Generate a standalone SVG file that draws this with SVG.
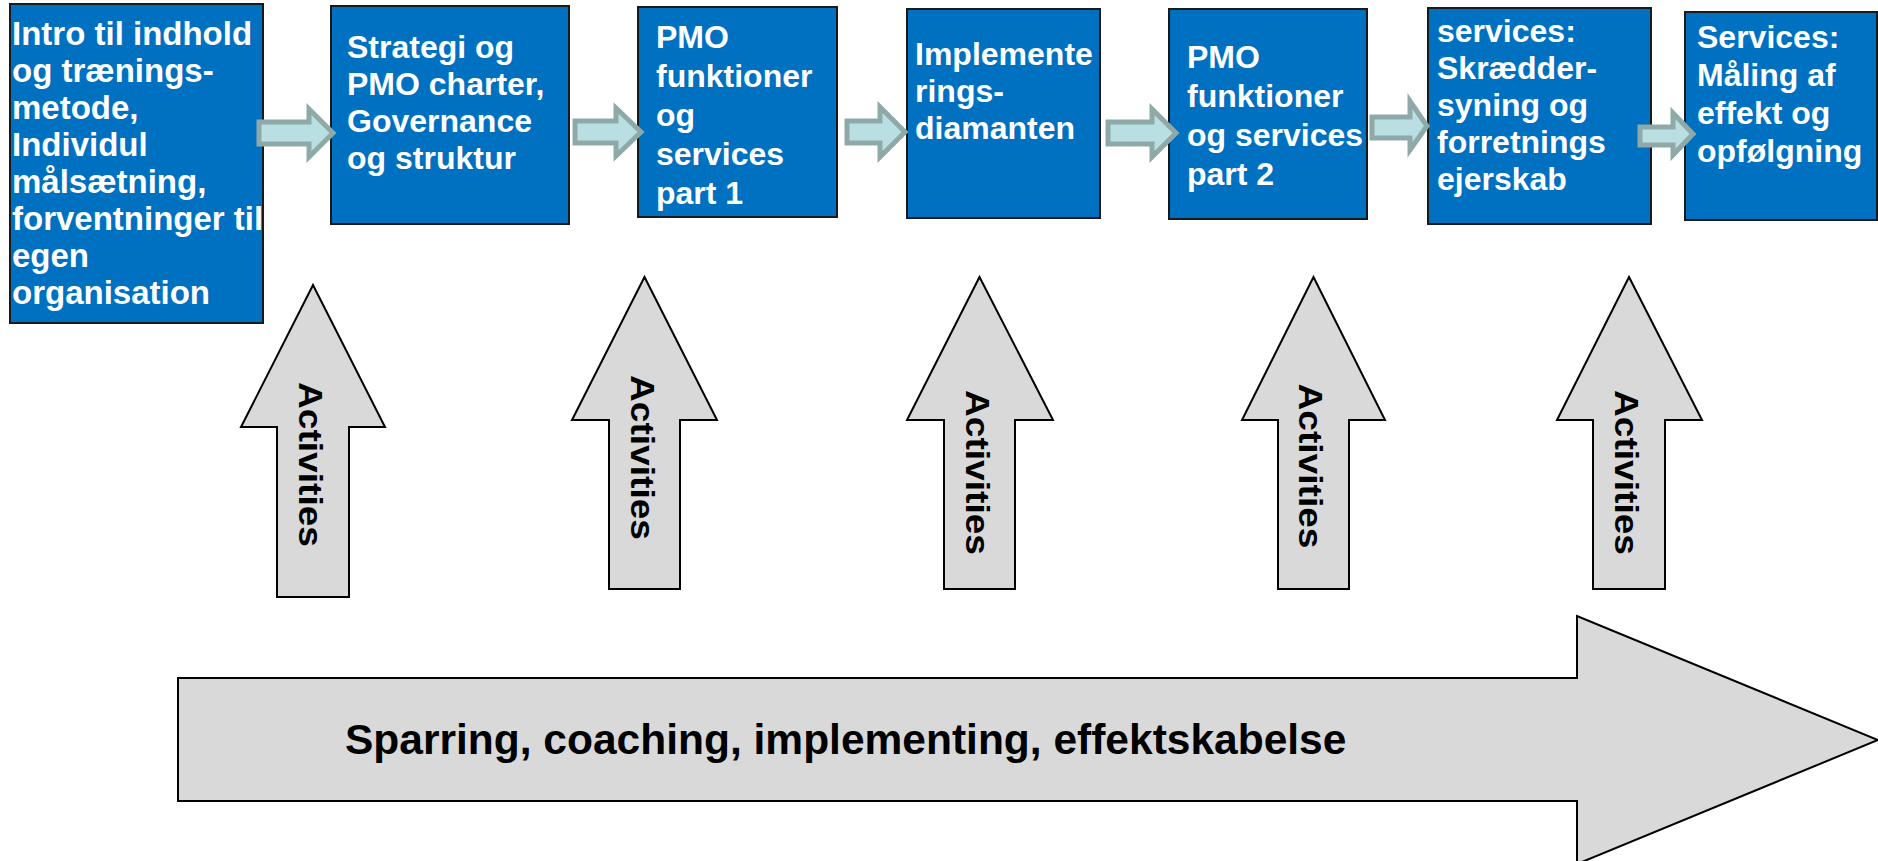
<svg xmlns="http://www.w3.org/2000/svg" width="1878" height="861" viewBox="0 0 1878 861">
<style>
.box{fill:#0070C0;stroke:#1a1a1a;stroke-width:2}
.bt{font-family:"Liberation Sans",Arial,sans-serif;font-weight:bold;font-size:32px;fill:#ffffff}
.b1{font-size:33px}
.ga{fill:#D9D9D9;stroke:#000;stroke-width:2;stroke-linejoin:miter}
.act{font-family:"Liberation Sans",Arial,sans-serif;font-weight:bold;font-size:33px;fill:#000}
.sa{fill:#B9DFE2;stroke:#8FA9A9;stroke-width:5;stroke-linejoin:miter}
.big{font-family:"Liberation Sans",Arial,sans-serif;font-weight:bold;font-size:42.5px;fill:#000}
</style>
<rect width="1878" height="861" fill="#ffffff"/>

<g id="big-arrow">
<path class="ga" d="M178,678 H1577 V616 L1878,740 L1577,864 V801 H178 Z"/>
<text class="big" x="345" y="754">Sparring, coaching, implementing, effektskabelse</text>
</g>

<g id="activities-1">
<path class="ga" d="M277,597 V427 H241 L313,285 L385,427 H349 V597 Z"/>
<text class="act" transform="translate(299,464.5) rotate(90)" text-anchor="middle" textLength="165" lengthAdjust="spacingAndGlyphs">Activities</text>
</g>
<g id="activities-2">
<path class="ga" d="M609,589 V420 H572 L644.5,277 L717,420 H680 V589 Z"/>
<text class="act" transform="translate(631,457.5) rotate(90)" text-anchor="middle" textLength="165" lengthAdjust="spacingAndGlyphs">Activities</text>
</g>
<g id="activities-3">
<path class="ga" d="M944,589 V420 H907 L979.5,277 L1053,420 H1015 V589 Z"/>
<text class="act" transform="translate(966,472.5) rotate(90)" text-anchor="middle" textLength="165" lengthAdjust="spacingAndGlyphs">Activities</text>
</g>
<g id="activities-4">
<path class="ga" d="M1278,589 V420 H1242 L1313.5,277 L1385,420 H1349 V589 Z"/>
<text class="act" transform="translate(1299,466) rotate(90)" text-anchor="middle" textLength="165" lengthAdjust="spacingAndGlyphs">Activities</text>
</g>
<g id="activities-5">
<path class="ga" d="M1593,589 V420 H1557 L1629,277 L1702,420 H1665 V589 Z"/>
<text class="act" transform="translate(1615,472.5) rotate(90)" text-anchor="middle" textLength="165" lengthAdjust="spacingAndGlyphs">Activities</text>
</g>

<g id="box-1">
<rect class="box" x="10" y="4" width="253" height="319"/>
<text class="bt b1" x="12" y="45">Intro til indhold</text>
<text class="bt b1" x="12" y="82">og trænings-</text>
<text class="bt b1" x="12" y="119">metode,</text>
<text class="bt b1" x="12" y="156">Individul</text>
<text class="bt b1" x="12" y="193">målsætning,</text>
<text class="bt b1" x="12" y="230">forventninger til</text>
<text class="bt b1" x="12" y="267">egen</text>
<text class="bt b1" x="12" y="304">organisation</text>
</g>
<g id="box-2">
<rect class="box" x="331" y="6" width="238" height="218"/>
<text class="bt" x="347" y="58">Strategi og</text>
<text class="bt" x="347" y="95">PMO charter,</text>
<text class="bt" x="347" y="132">Governance</text>
<text class="bt" x="347" y="169">og struktur</text>
</g>
<g id="box-3">
<rect class="box" x="638" y="7" width="199" height="210"/>
<text class="bt" x="656" y="48">PMO</text>
<text class="bt" x="656" y="87">funktioner</text>
<text class="bt" x="656" y="126">og</text>
<text class="bt" x="656" y="165">services</text>
<text class="bt" x="656" y="204">part 1</text>
</g>
<g id="box-4">
<rect class="box" x="907" y="9" width="193" height="209"/>
<text class="bt" x="915" y="65">Implemente</text>
<text class="bt" x="915" y="102">rings-</text>
<text class="bt" x="915" y="139">diamanten</text>
</g>
<g id="box-5">
<rect class="box" x="1169" y="9" width="198" height="210"/>
<text class="bt" x="1187" y="68">PMO</text>
<text class="bt" x="1187" y="107">funktioner</text>
<text class="bt" x="1187" y="146">og services</text>
<text class="bt" x="1187" y="185">part 2</text>
</g>
<g id="box-6">
<rect class="box" x="1428" y="8" width="223" height="216"/>
<text class="bt" x="1437" y="42">services:</text>
<text class="bt" x="1437" y="79">Skrædder-</text>
<text class="bt" x="1437" y="116">syning og</text>
<text class="bt" x="1437" y="153">forretnings</text>
<text class="bt" x="1437" y="190">ejerskab</text>
</g>
<g id="box-7">
<rect class="box" x="1685" y="12" width="192" height="208"/>
<text class="bt" x="1697" y="48">Services:</text>
<text class="bt" x="1697" y="86">Måling af</text>
<text class="bt" x="1697" y="124">effekt og</text>
<text class="bt" x="1697" y="162">opfølgning</text>
</g>

<g id="connectors">
<path class="sa" d="M259,122 H309 V109 L333,133 L309,157 V144 H259 Z"/>
<path class="sa" d="M575,121 H616 V108 L641,132 L616,156 V143 H575 Z"/>
<path class="sa" d="M847,121 H880 V107 L905,132 L880,157 V143 H847 Z"/>
<path class="sa" d="M1108,122 H1152 V109 L1176,133 L1152,157 V144 H1108 Z"/>
<path class="sa" d="M1372,117 H1410 V101 L1427,126 L1410,150 V138 H1372 Z"/>
<path class="sa" d="M1640,127 H1673 V113 L1693,134 L1673,155 V145 H1640 Z"/>
</g>
</svg>
